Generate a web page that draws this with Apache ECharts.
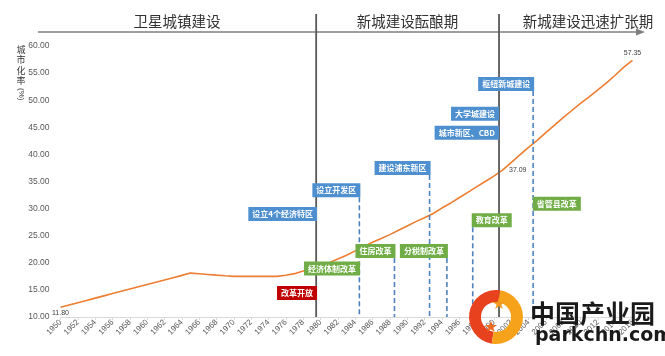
<!DOCTYPE html>
<html><head><meta charset="utf-8">
<script src="https://cdn.jsdelivr.net/npm/echarts@6/dist/echarts.min.js"></script>
<style>html,body{margin:0;padding:0;background:#fff}#c{width:665px;height:356px}</style>
</head><body><div id="c"></div>
<script>
// ---- data ----
const years = [1950,1951,1952,1953,1954,1955,1956,1957,1958,1959,
  1960,1961,1962,1963,1964,1965,1966,1967,1968,1969,
  1970,1971,1972,1973,1974,1975,1976,1977,1978,1979,
  1980,1981,1982,1983,1984,1985,1986,1987,1988,1989,
  1990,1991,1992,1993,1994,1995,1996,1997,1998,1999,
  2000,2001,2002,2003,2004,2005,2006,2007,2008,2009,
  2010,2011,2012,2013,2014,2015,2016];
const rates = [11.80,12.22,12.64,13.06,13.48,13.9,14.32,14.74,15.16,15.58,
  16.0,16.42,16.84,17.26,17.68,18.1,17.98,17.85,17.72,17.6,
  17.5,17.5,17.5,17.5,17.5,17.5,17.7,18.0,18.5,18.9,
  19.4,20.0,20.7,21.4,22.2,23.0,23.8,24.5,25.2,26.0,
  26.8,27.6,28.3,29.1,30.1,31.0,32.0,33.0,34.0,35.0,
  36.0,37.09,38.5,39.9,41.3,42.6,44.0,45.4,46.8,48.1,
  49.4,50.6,51.9,53.2,54.6,56.1,57.35];
const labelledYears = [1950, 2001, 2016];
const yAxisName = '城市化率';
const yAxisUnit = '(%)';
const phaseNames = ['卫星城镇建设', '新城建设酝酿期', '新城建设迅速扩张期'];
const phaseBounds = [1979.5, 2000.6];
const eventNames = ['改革开放','经济体制改革','设立4个经济特区','设立开发区','建设浦东新区','住房改革','分税制改革','教育改革','省管县改革','城市新区、CBD','大学城建设','枢纽新城建设'];
const eventYears = [1979.6, 1978.1, 1979.6, 1984.6, 1992.7, 1988.65, 1994.7, 1997.45, 2004.5, 2000.6, 2000.6, 2004.65];
const eventKinds = ['milestone','reform','zone','zone','zone','reform','reform','reform','reform','zone','zone','zone'];
const watermarkTitle = '中国产业园';
const watermarkSite = 'parkchn.com';

// ---- layout / style (not data) ----
const eventLevels = [15.72, 20.24, 30.3, 34.67, 38.78, 23.47, 23.47, 29.13, 32.2, 45.3, 48.8, 54.28];
const eventAlign = ['right','left','right','right','right','right','right','left','left','right','right','right'];
const eventDash = [false,false,false,true,true,true,true,true,false,false,false,true];
const kindColor = {milestone:'#C00000', reform:'#70AD47', zone:'#4E8FCF'};

const FONT = '"Liberation Sans","Noto Sans CJK SC",sans-serif';
const CJK = '"Noto Sans CJK SC",sans-serif';

const chart = echarts.init(document.getElementById('c'), null, {renderer:'canvas'});

const seriesData = years.map((y, i) => {
  const item = {value: [y, rates[i]]};
  if (labelledYears.includes(y)) {
    let lbl = {show: true, formatter: p => p.value[1].toFixed(2), fontSize: 7, color: '#404040', fontFamily: FONT};
    if (i === 0) Object.assign(lbl, {position: 'bottom', offset: [7, -1], distance: 2});
    else if (y === 2016) Object.assign(lbl, {position: 'top', distance: 3});
    else Object.assign(lbl, {position: 'right', distance: 6});
    item.label = lbl;
  }
  return item;
});

chart.setOption({
  animation: false,
  backgroundColor: '#fff',
  textStyle: {fontFamily: FONT},
  grid: {left: 60.5, right: 32.5, top: 46, bottom: 39, containLabel: false},
  xAxis: {
    type: 'value', min: 1950, max: 2016, interval: 2,
    axisLine: {lineStyle: {color: '#d9d9d9', width: 1}},
    axisTick: {show: true, length: 3, lineStyle: {color: '#d9d9d9'}},
    splitLine: {show: false},
    axisLabel: {rotate: 45, fontSize: 8, color: '#595959', margin: 4, formatter: v => String(v), fontFamily: FONT}
  },
  yAxis: {
    type: 'value', min: 10, max: 60, interval: 5,
    axisLine: {show: false}, axisTick: {show: false}, splitLine: {show: false},
    axisLabel: {fontSize: 8.5, color: '#595959', margin: 11, formatter: v => v.toFixed(2), fontFamily: FONT}
  },
  series: [{
    type: 'line', data: seriesData, showSymbol: true, symbol: 'circle', symbolSize: 1,
    itemStyle: {color: 'rgba(0,0,0,0)', borderWidth: 0},
    labelLayout: {hideOverlap: false},
    lineStyle: {color: '#ED7D31', width: 1.6}, z: 2
  }]
});

const P = (x, y) => chart.convertToPixel({gridIndex: 0}, [x, y]);
const bottomY = P(1950, 10)[1];
const g = [];

// phase arrow
g.push({type: 'line', shape: {x1: 38, y1: 32, x2: 638, y2: 32}, style: {stroke: '#7f7f7f', lineWidth: 1.5}, z: 10});
g.push({type: 'polygon', shape: {points: [[645, 32], [636, 28.5], [636, 35.5]]}, style: {fill: '#7f7f7f'}, z: 10});
// phase dividers
const bx = phaseBounds.map(b => P(b, 10)[0]);
bx.forEach(x => g.push({type: 'line', shape: {x1: x, y1: 14, x2: x, y2: bottomY}, style: {stroke: '#595959', lineWidth: 1.8}, z: 11}));
// phase titles
const phaseCenters = [(38 + bx[0]) / 2, (bx[0] + bx[1]) / 2, (bx[1] + 677) / 2];
phaseNames.forEach((n, i) => g.push({type: 'text', x: phaseCenters[i], y: 21, z: 12,
  style: {text: n, fontSize: 14.5, fill: '#333', fontFamily: CJK, align: 'center', verticalAlign: 'middle'}}));

// y axis name
g.push({type: 'text', x: 21, y: 44, z: 12, style: {text: yAxisName.split('').join('\n'), fontSize: 9, lineHeight: 10.5, fill: '#333', fontFamily: CJK, align: 'center', verticalAlign: 'top'}});
g.push({type: 'text', x: 21, y: 88, rotation: -Math.PI / 2, z: 12, style: {text: yAxisUnit, fontSize: 8, fill: '#333', fontFamily: FONT, align: 'left', verticalAlign: 'middle'}});

// events
eventNames.forEach((n, i) => {
  const [x, y] = P(eventYears[i], eventLevels[i]);
  const boxH = 14;
  if (eventDash[i]) {
    const lx = eventAlign[i] === 'right' ? x - 1 : x + 1;
    g.push({type: 'line', shape: {x1: lx, y1: y + boxH, x2: lx, y2: bottomY}, style: {stroke: '#4F81BD', lineWidth: 1.6, lineDash: [5, 3]}, z: 13});
  }
  g.push({type: 'text', x: x, y: y, z: 20, style: {
    text: n, fontSize: 8, lineHeight: 8, fill: '#fff', fontFamily: CJK, fontWeight: 'bold',
    backgroundColor: kindColor[eventKinds[i]], padding: [3, 4, 3, 4],
    align: eventAlign[i], verticalAlign: 'top'
  }});
});

// watermark logo
g.push({type: 'sector', shape: {cx: 496, cy: 317, r: 27, r0: 15, startAngle: Math.PI * 0.55, endAngle: Math.PI * 1.55}, style: {fill: '#E8411E'}, z: 30});
g.push({type: 'sector', shape: {cx: 496, cy: 317, r: 27, r0: 15, startAngle: -Math.PI * 0.45, endAngle: Math.PI * 0.55}, style: {fill: '#F7A21B'}, z: 30});
g.push({type: 'text', x: 499, y: 305, z: 31, style: {text: '★', fontSize: 16, fill: '#F39A1F', align: 'center', verticalAlign: 'middle', fontFamily: '"DejaVu Sans",sans-serif'}});
g.push({type: 'text', x: 491, y: 328, z: 31, style: {text: '★', fontSize: 16, fill: '#EE6A1E', align: 'center', verticalAlign: 'middle', fontFamily: '"DejaVu Sans",sans-serif'}});
g.push({type: 'text', x: 530, y: 313, z: 31, style: {text: watermarkTitle, fontSize: 25, fontWeight: 'bold', fill: '#1a1a1a', fontFamily: CJK, align: 'left', verticalAlign: 'middle'}});
g.push({type: 'text', x: 535, y: 336, z: 31, style: {text: watermarkSite, fontSize: 19, fontWeight: 'bold', fill: '#1a1a1a', fontFamily: '"DejaVu Sans",sans-serif', align: 'left', verticalAlign: 'middle'}});

chart.setOption({graphic: {elements: g}});
</script></body></html>
